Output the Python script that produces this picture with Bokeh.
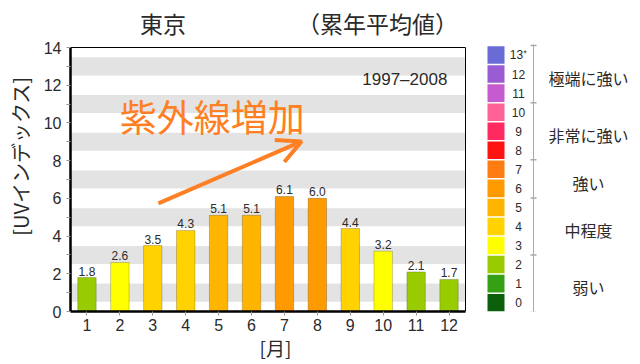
from bokeh.plotting import figure
from bokeh.models import Range1d, Label, BoxAnnotation, Arrow, OpenHead, FixedTicker
from bokeh.core.properties import value
from bokeh.embed import file_html
from bokeh.resources import INLINE

# ---- data ----
months = [1, 2, 3, 4, 5, 6, 7, 8, 9, 10, 11, 12]
uv_index = [1.8, 2.6, 3.5, 4.3, 5.1, 5.1, 6.1, 6.0, 4.4, 3.2, 2.1, 1.7]
levels = list(range(14))
level_labels = ["0", "1", "2", "3", "4", "5", "6", "7", "8", "9", "10", "11", "12", "13\u207a"]
level_colors = ["#0b5f0b", "#36a014", "#99cc00", "#ffff00", "#ffd200", "#ffb400",
                "#ff9a00", "#ff7c12", "#ff1212", "#ff2b60", "#ff6295", "#c65bcf",
                "#9a5cd2", "#6a6bd4"]
cat_names = ["弱い", "中程度", "強い", "非常に強い", "極端に強い"]
cat_lo = [0, 3, 6, 8, 11]
cat_hi = [3, 6, 8, 11, 14]

JP = "Noto Sans CJK JP"
LAT = "Liberation Sans"
ORANGE = "#ff7f24"
TXT = "#2a2a2a"

bar_colors = [level_colors[int(v + 0.5)] for v in uv_index]
bar_labels = ["%.1f" % v for v in uv_index]

# layout geometry (page pixels; figure sits at the page's top-left corner)
FL, FR, FT, FB = 70, 632, 0, 311       # frame edges (frame reaches the top edge)
W, H = 640, 364
px_per_month = 395 / 12.0
px_per_uv = 264 / 14.0

p = figure(width=W, height=H, output_backend="svg", toolbar_location=None,
           x_range=Range1d(0.5, 0.5 + (FR - FL) / px_per_month),
           y_range=Range1d(0, (FB - FT) / px_per_uv),
           min_border_left=FL, min_border_right=W - FR,
           min_border_top=FT, min_border_bottom=H - FB)
p.extra_x_ranges = {"px": Range1d(FL, FR)}
p.extra_y_ranges = {"pxy": Range1d(FB, FT),
                    "lvl": Range1d((311.7 - FB) / 19.05, (311.7 - FT) / 19.05)}
p.grid.visible = False
p.outline_line_color = None
p.background_fill_color = "white"
p.border_fill_color = "white"

for k in range(1, 14, 2):
    p.add_layout(BoxAnnotation(bottom=k - 0.48, top=k + 0.48, left=0.5, right=12.5,
                               fill_color="#e3e3e3", fill_alpha=1, line_alpha=0,
                               level="underlay"))

# plot-area top / right border
p.segment(x0=[0.5, 12.5], y0=[14, 0], x1=[12.5, 12.5], y1=[14, 14],
          line_color="black", line_width=1)

p.vbar(x=months, top=uv_index, width=0.56, fill_color=bar_colors,
       line_color="black", line_alpha=0.2, line_width=1)
p.text(x=months, y=uv_index, text=bar_labels, y_offset=-2,
       text_align="center", text_baseline="bottom",
       text_font=value(LAT), text_font_size="12px", text_color=TXT)

# axes
p.yaxis.ticker = FixedTicker(ticks=[0, 2, 4, 6, 8, 10, 12, 14],
                             minor_ticks=[1, 3, 5, 7, 9, 11, 13])
p.xaxis.ticker = FixedTicker(ticks=months)
p.yaxis.bounds = (0, 14)
p.xaxis.bounds = (0.5, 12.5)
for ax in (p.xaxis[0], p.yaxis[0]):
    ax.axis_line_width = 2.5
    ax.axis_line_color = "black"
    ax.major_tick_in = 0
    ax.major_tick_out = 4
    ax.minor_tick_in = 0
    ax.minor_tick_out = 4
    ax.major_tick_line_color = "#999999"
    ax.minor_tick_line_color = "#999999"
    ax.major_label_text_font = LAT
    ax.major_label_text_font_size = "16px"
    ax.major_label_text_color = TXT
    ax.axis_label_text_font = JP
    ax.axis_label_text_font_style = "normal"
    ax.axis_label_text_color = TXT
p.xaxis.minor_tick_out = 0
p.xaxis.major_label_standoff = 3
p.yaxis.major_label_standoff = 5
p.yaxis.axis_label = "[UVインデックス]"
p.yaxis.axis_label_text_font_size = "20px"
p.yaxis.axis_label_standoff = 6
# trailing ideographic spaces shift the centred label left, under the months
p.xaxis.axis_label = "[月]" + "\u3000" * 8
p.xaxis.axis_label_text_font_size = "19px"
p.xaxis.axis_label_standoff = 0

# chart titles (page-pixel coordinates inside the tall frame)
p.add_layout(Label(x=162.5, y=22, x_range_name="px", y_range_name="pxy", text="東京",
                   text_align="center", text_baseline="middle", text_font=JP,
                   text_font_size="23px", text_color=TXT))
p.add_layout(Label(x=377, y=22, x_range_name="px", y_range_name="pxy",
                   text="（累年平均値）", text_align="center", text_baseline="middle",
                   text_font=JP, text_font_size="23px", text_color=TXT))

# arrow annotation
p.add_layout(Arrow(end=OpenHead(size=24, line_color=ORANGE, line_width=4),
                   x_start=3.17, y_start=5.73, x_end=7.52, y_end=9.02,
                   line_color=ORANGE, line_width=4))
p.add_layout(Label(x=4.81, y=10.35, text="紫外線増加", text_align="center",
                   text_baseline="middle", text_font=JP, text_font_size="37px",
                   text_color=ORANGE))
p.add_layout(Label(x=11.95, y=12.3, text="1997\u20132008", text_align="right",
                   text_baseline="middle", text_font=LAT, text_font_size="17px",
                   text_color=TXT))

# ---- colour scale legend ----
p.quad(left=487, right=504, bottom=[k + 0.04 for k in levels],
       top=[k + 0.96 for k in levels], fill_color=level_colors, line_color=None,
       x_range_name="px", y_range_name="lvl")
p.text(x=518, y=[k + 0.5 for k in levels], text=level_labels, text_align="center",
       text_baseline="middle", text_font=value(LAT), text_font_size="12px",
       text_color=TXT, x_range_name="px", y_range_name="lvl")
p.segment(x0=533, y0=-0.1, x1=533, y1=14.05, line_color="#aaaaaa", line_width=1,
          x_range_name="px", y_range_name="lvl")
bounds = sorted(set(cat_lo + cat_hi))
p.segment(x0=530, y0=bounds, x1=536, y1=bounds, line_color="#aaaaaa", line_width=1.5,
          x_range_name="px", y_range_name="lvl")
p.text(x=588, y=[(a + b) / 2 - 0.2 for a, b in zip(cat_lo, cat_hi)], text=cat_names,
       text_align="center", text_baseline="middle", text_font=value(JP),
       text_font_size="16px", text_color=TXT, x_range_name="px", y_range_name="lvl")

open("out.html", "w").write(file_html(p, INLINE))
